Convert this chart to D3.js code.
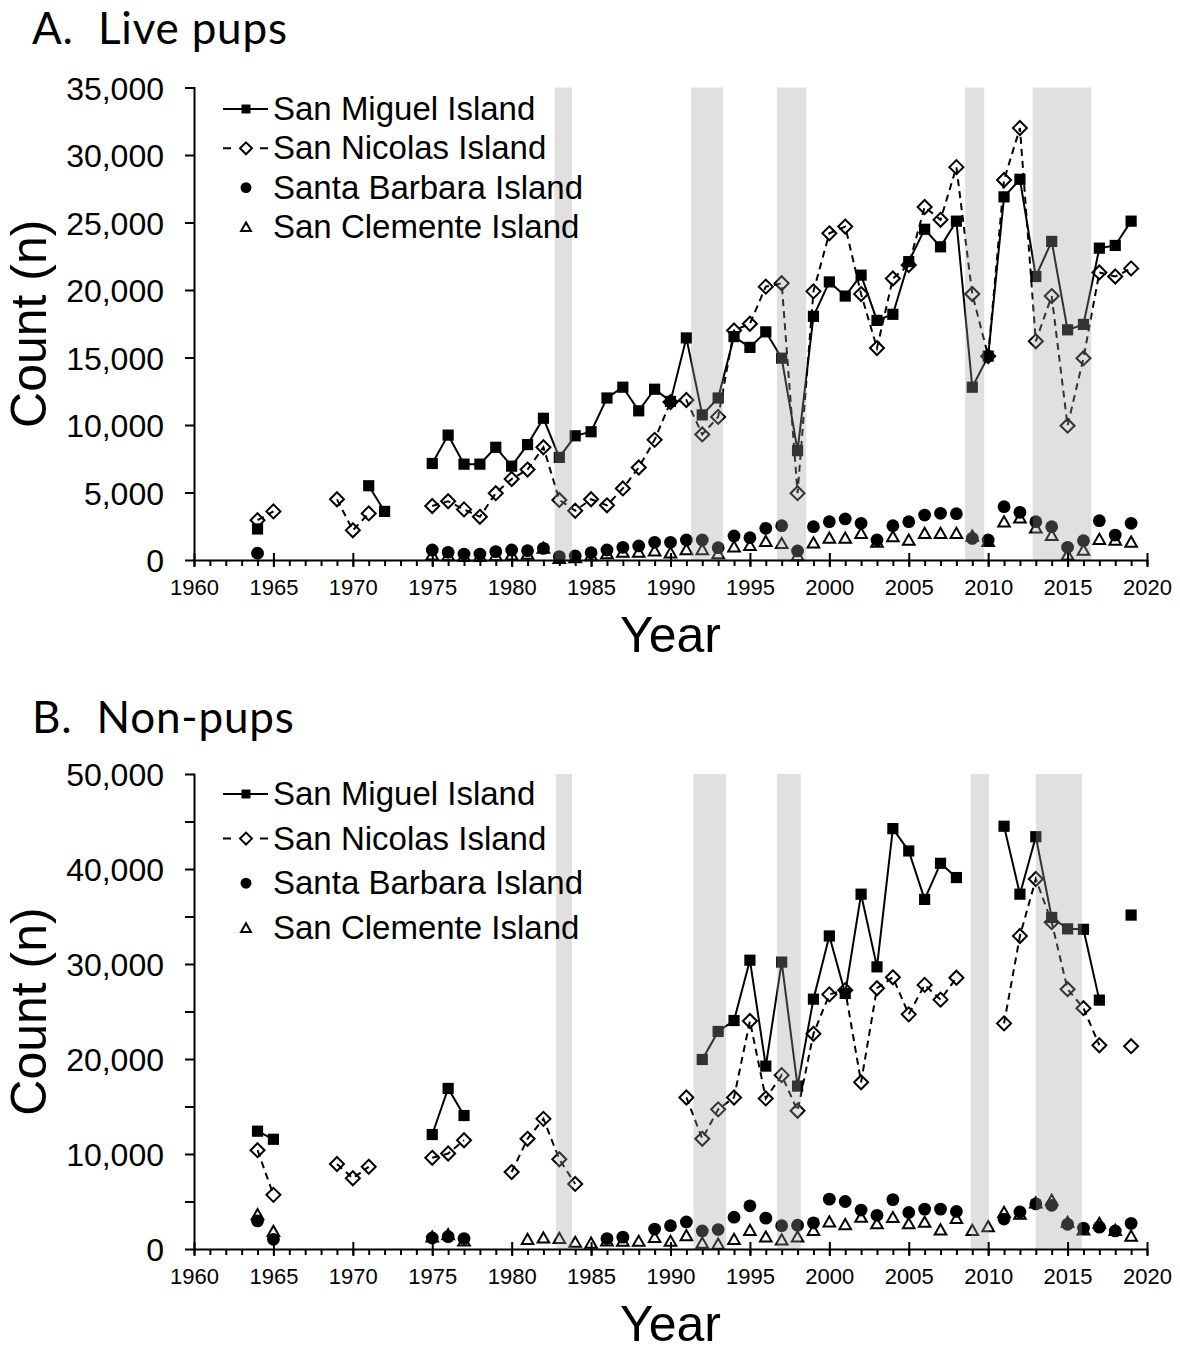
<!DOCTYPE html>
<html>
<head>
<meta charset="utf-8">
<script src="https://cdn.jsdelivr.net/npm/d3@7"></script>
<style>
  body { margin: 0; background: #fff; }
  svg text { font-family: "Liberation Sans", Arial, sans-serif; fill: #000; }
</style>
</head>
<body>
<svg id="chart" width="1180" height="1352"></svg>
<script>
// ---- Data -------------------------------------------------------------
// One value per year, 1964–2019; null = no survey that year.
const years = d3.range(1964, 2020);

const islands = ["San Miguel Island", "San Nicolas Island", "Santa Barbara Island", "San Clemente Island"];

// A. Live pups
const pupsSanMiguel = [
  2300, null, null, null, null, null,
  null, 5500, 3600, null, null, 7150, 9250, 7100, 7100, 8350,
  6950, 8550, 10500, 7600, 9200, 9500, 12000, 12800, 11050, 12650,
  11750, 16450, 10750, 12000, 16550, 15750, 16900, 14950, 8100, 18050,
  20600, 19550, 21100, 17750, 18200, 22100, 24500, 23200, 25100, 12800,
  15100, 26900, 28200, 21000, 23600, 17050, 17450, 23100, 23300, 25100
];
const pupsSanNicolas = [
  2950, 3600, null, null, null, 4500,
  2200, 3450, null, null, null, 4000, 4350, 3750, 3200, 4950,
  6000, 6700, 8350, 4450, 3650, 4500, 4050, 5300, 6850, 8900,
  11700, 11850, 9300, 10600, 17000, 17500, 20250, 20500, 4950, 19900,
  24200, 24700, 19700, 15700, 20850, 21850, 26150, 25200, 29100, 19700,
  15100, 28150, 32000, 16200, 19550, 9950, 14950, 21300, 21000, 21600
];
const pupsSantaBarbara = [
  500, null, null, null, null, null,
  null, null, null, null, null, 740, 570, 440, 440, 620,
  740, 690, 860, 250, 300, 540, 740, 940, 1040, 1310,
  1310, 1480, 1480, 910, 1780, 1650, 2350, 2540, 670, 2470,
  2840, 3040, 2720, 1480, 2540, 2840, 3330, 3460, 3430, 1600,
  1480, 3950, 3530, 2840, 2470, 940, 1430, 2910, 1850, 2720
];
const pupsSanClemente = [
  null, null, null, null, null, null,
  null, null, null, null, null, 400, 350, 300, 300, 350,
  400, 450, 900, 150, 200, 350, 500, 600, 600, 700,
  550, 800, 800, 500, 1000, 1100, 1400, 1250, 350, 1300,
  1650, 1650, 2000, 1350, 1750, 1500, 2000, 2000, 2000, 1800,
  1400, 2850, 3150, 2400, 1850, 400, 750, 1550, 1500, 1350
];

// B. Non-pups
const nonPupsSanMiguel = [
  12400, 11550, null, null, null, null,
  null, null, null, null, null, 12050, 16900, 14050, null, null,
  null, null, null, null, null, null, null, null, null, null,
  null, null, 19950, 22900, 24050, 30400, 19250, 30200, 17150, 26300,
  32950, 26900, 37350, 29700, 44250, 41900, 36800, 40600, 39100, null,
  null, 44500, 37350, 43400, 34900, 33700, 33650, 26200, null, 35150
];
const nonPupsSanNicolas = [
  10400, 5700, null, null, null, 8950,
  7450, 8650, null, null, null, 9600, 10050, 11450, null, null,
  8100, 11600, 13700, 9450, 6850, null, null, null, null, null,
  null, 15950, 11600, 14700, 15950, 24000, 15850, 18300, 14550, 22650,
  26800, 27250, 17550, 27450, 28600, 24700, 27800, 26250, 28550, null,
  null, 23750, 32950, 38950, 34400, 27350, 25350, 21450, null, 21350
];
const nonPupsSantaBarbara = [
  2950, 1020, null, null, null, null,
  null, null, null, null, null, 1160, 1300, 1100, null, null,
  null, null, null, null, null, null, 1100, 1250, null, 2100,
  2450, 2850, 1900, 2050, 3350, 4550, 3250, 2450, 2500, 2750,
  5250, 5000, 4100, 3550, 5200, 3850, 4200, 4200, 3950, null,
  null, 3150, 3900, 4750, 4600, 2600, 2200, 2300, 1900, 2700
];
const nonPupsSanClemente = [
  3650, 1900, null, null, null, null,
  null, null, null, null, null, 1300, 1550, 900, null, null,
  null, 1050, 1200, 1150, 750, 650, 900, 850, 850, 1250,
  850, 1450, 650, 550, 1050, 2000, 1300, 1000, 1300, 2000,
  2900, 2600, 3400, 2700, 3350, 2700, 2850, 2050, 3250, 2000,
  2400, 3900, 3700, 4900, 5150, 2850, 2050, 2750, 2000, 1400
];

// Shaded periods (start year, end year)
const pupBands = [[1982.7, 1983.8], [1991.3, 1993.3], [1996.7, 1998.55], [2008.55, 2009.75], [2012.8, 2016.5]];
const nonPupBands = [[1982.8, 1983.8], [1991.45, 1993.5], [1996.7, 1998.2], [2008.9, 2010.05], [2013.0, 2015.9]];

// Axis ticks
const yearTicks = d3.range(1960, 2021, 5);
const yearMinorTicks = d3.range(1960, 2021, 1);
const pupTicks = [0, 5000, 10000, 15000, 20000, 25000, 30000, 35000];
const pupTickLabels = pupTicks;
const nonPupTicks = [0, 5000, 10000, 15000, 20000, 25000, 30000, 35000, 40000, 45000, 50000];
const nonPupTickLabels = [0, 10000, 20000, 30000, 40000, 50000];

// ---- Drawing -----------------------------------------------------------
const svg = d3.select("#chart");
const fmt = d3.format(",");

const markerPaths = {
  square: s => `M${-s},${-s}H${s}V${s}H${-s}Z`,
  diamond: s => `M0,${-s}L${s},0L0,${s}L${-s},0Z`,
  triangle: s => `M0,${-s * 0.9}L${s},${s * 0.85}L${-s},${s * 0.85}Z`
};

const styles = [
  { shape: "square",  size: 5.6, fill: "#000", stroke: "none", line: "solid" },
  { shape: "diamond", size: 7,   fill: "none", stroke: "#000", line: "dash" },
  { shape: "circle",  size: 6.4, fill: "#000", stroke: "none", line: null },
  { shape: "triangle", size: 5.8, fill: "none", stroke: "#000", line: null }
];

function drawMarker(sel, st, scale) {
  const s = st.size * scale;
  if (st.shape === "circle") {
    return sel.append("circle").attr("r", s).attr("fill", st.fill);
  }
  return sel.append("path")
    .attr("d", markerPaths[st.shape](s))
    .attr("fill", st.fill)
    .attr("stroke", st.stroke)
    .attr("stroke-width", st.stroke === "none" ? null : 2)
    .attr("stroke-linejoin", "miter");
}

function panel(cfg) {
  const x = d3.scaleLinear().domain([1960, 2020]).range([194, 1147]);
  const y = d3.scaleLinear().domain([0, cfg.yMax]).range([cfg.y0, cfg.yTop]);
  const g = svg.append("g");

  // series lines
  cfg.series.forEach((vals, i) => {
    const st = styles[i];
    if (!st.line) return;
    const line = d3.line()
      .defined(d => d[1] != null)
      .x(d => x(d[0]))
      .y(d => y(d[1]));
    g.append("path")
      .datum(years.map((yr, k) => [yr, vals[k]]))
      .attr("d", line)
      .attr("fill", "none")
      .attr("stroke", "#000")
      .attr("stroke-width", 2)
      .attr("stroke-dasharray", st.line === "dash" ? "7,5" : null);
  });

  // series markers
  cfg.series.forEach((vals, i) => {
    const st = styles[i];
    const pts = years.map((yr, k) => [yr, vals[k]]).filter(d => d[1] != null);
    const mg = g.append("g");
    pts.forEach(d => {
      const m = mg.append("g").attr("transform", `translate(${x(d[0])},${y(d[1])})`);
      drawMarker(m, st, 1);
    });
  });

  // shaded periods, translucent over the data
  g.append("g").selectAll("rect")
    .data(cfg.bands)
    .join("rect")
    .attr("x", d => x(d[0]))
    .attr("width", d => x(d[1]) - x(d[0]))
    .attr("y", y(cfg.yMax))
    .attr("height", y(0) - y(cfg.yMax))
    .attr("fill", "#a0a0a0")
    .attr("fill-opacity", 0.32);

  // legend
  const lg = g.append("g");
  islands.forEach((name, i) => {
    const st = styles[i];
    const cy = cfg.legendY + i * cfg.legendStep;
    const row = lg.append("g").attr("transform", `translate(0,${cy})`);
    if (st.line) {
      row.append("line")
        .attr("x1", 223).attr("x2", 268).attr("y1", 0).attr("y2", 0)
        .attr("stroke", "#000").attr("stroke-width", 2)
        .attr("stroke-dasharray", st.line === "dash" ? "8,29,8" : null);
    }
    const m = row.append("g").attr("transform", "translate(246,0)");
    drawMarker(m, st, st.shape === "square" ? 0.8 : 0.85);
    row.append("text")
      .attr("x", 273).attr("y", 11)
      .attr("font-size", 33)
      .text(name);
  });

  // x axis: minor ticks below, major ticks crossing the axis
  const gxMinor = g.append("g").attr("transform", `translate(0,${cfg.y0})`)
    .call(d3.axisBottom(x).tickValues(yearMinorTicks).tickSize(6).tickSizeOuter(0).tickFormat(""));
  gxMinor.select(".domain").remove();
  gxMinor.selectAll("line").attr("stroke-width", 2);

  const gx = g.append("g").attr("transform", `translate(0,${cfg.y0})`)
    .call(d3.axisBottom(x).tickValues(yearTicks).tickSize(7).tickSizeOuter(0).tickFormat(d3.format("d")));
  gx.selectAll(".tick line").attr("y1", -7).attr("stroke-width", 2);
  gx.select(".domain").attr("stroke-width", 2);
  gx.selectAll("text").attr("y", 35).attr("dy", null)
    .attr("font-size", 22).attr("font-family", null);
  gx.attr("font-family", null);

  // y axis
  const gy = g.append("g").attr("transform", "translate(194,0)")
    .call(d3.axisLeft(y).tickValues(cfg.yTicks).tickSize(9).tickSizeOuter(0).tickPadding(21)
      .tickFormat(d => cfg.yLabels.includes(d) ? fmt(d) : ""));
  gy.selectAll(".tick line").attr("stroke-width", 2);
  gy.select(".domain").attr("stroke-width", 2).attr("stroke-linecap", "square");
  gy.selectAll("text").attr("dy", "0.36em").attr("font-size", 32);
  gy.attr("font-family", null);

  // axis titles
  g.append("text")
    .attr("transform", `translate(46,${(cfg.y0 + cfg.yTop) / 2}) rotate(-90)`)
    .attr("text-anchor", "middle")
    .attr("font-size", 50)
    .text("Count (n)");
  g.append("text")
    .attr("x", (x.range()[0] + x.range()[1]) / 2)
    .attr("y", cfg.y0 + 92)
    .attr("text-anchor", "middle")
    .attr("font-size", 50)
    .text("Year");

  // panel title
  g.append("text")
    .attr("x", 32).attr("y", cfg.titleY)
    .attr("font-size", 44)
    .attr("letter-spacing", 0.8)
    .style("font-family", "Lato, 'Open Sans', sans-serif")
    .style("white-space", "pre")
    .text(cfg.title);
}

panel({
  title: "A.  Live pups", titleY: 44,
  y0: 560, yTop: 87.5, yMax: 35000,
  yTicks: pupTicks, yLabels: pupTickLabels,
  series: [pupsSanMiguel, pupsSanNicolas, pupsSantaBarbara, pupsSanClemente],
  bands: pupBands,
  legendY: 109, legendStep: 39.3
});

panel({
  title: "B.  Non-pups", titleY: 733,
  y0: 1249, yTop: 774, yMax: 50000,
  yTicks: nonPupTicks, yLabels: nonPupTickLabels,
  series: [nonPupsSanMiguel, nonPupsSanNicolas, nonPupsSantaBarbara, nonPupsSanClemente],
  bands: nonPupBands,
  legendY: 794, legendStep: 44.6
});
</script>
</body>
</html>
